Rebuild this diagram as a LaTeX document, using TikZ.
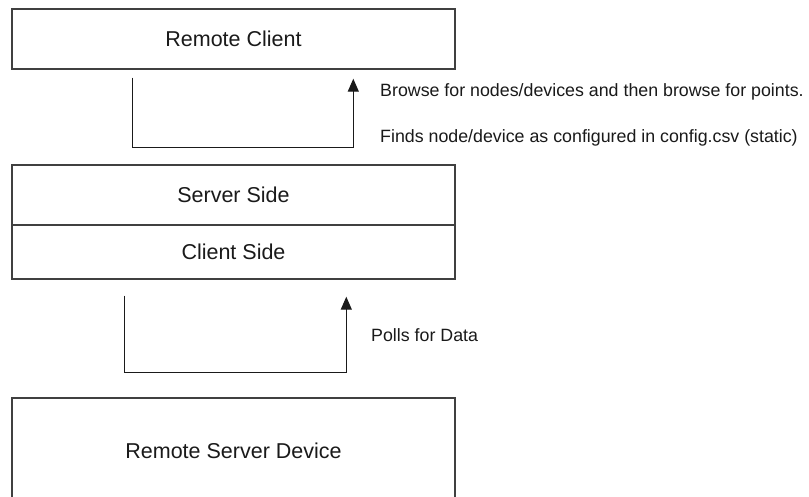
\documentclass[tikz,border=0pt]{standalone}
\usepackage{fontspec}
\setmainfont{Liberation Sans}
\usetikzlibrary{arrows.meta,calc}
\definecolor{boxline}{HTML}{404040}
\definecolor{txt}{HTML}{1A1A1A}
\tikzset{
  boxnode/.style={draw=boxline, line width=1.4pt, minimum width=443pt, inner sep=0pt,
                  font=\fontsize{21.5}{24}\selectfont, text=txt},
  conn/.style={draw=txt, line width=1.2pt},
  arr/.style={conn, -{Triangle[width=11pt,length=13pt]}},
  note/.style={anchor=west, inner sep=0pt, font=\fontsize{17.8}{20}\selectfont, text=txt}
}
\begin{document}
\begin{tikzpicture}[x=1pt,y=-1pt]
\useasboundingbox (0,0) rectangle (809,497);
\clip (0,0) rectangle (809,497);
\fill[white] (0,0) rectangle (809,497);
% boxes
\node[boxnode, minimum height=60pt] (rc) at (233.5,39) {Remote Client};
\node[boxnode, minimum height=60pt] (ss) at (233.5,195) {Server Side};
\node[boxnode, minimum height=54pt] (cs) at (233.5,252) {Client Side};
\node[boxnode, minimum height=106pt] (rsd) at (233.5,451) {Remote Server Device};
% top connector
\coordinate (t1) at ($(rc.south west)+(121,8)$);
\coordinate (t2) at ($(ss.north west)+(342,-17)$);
\draw[arr] (t1) -- (t1 |- t2) -- (t2) -- ($(rc.south west)+(342,9)$);
% lower connector
\coordinate (b1) at ($(cs.south west)+(113,16)$);
\coordinate (b2) at ($(rsd.north west)+(335,-25)$);
\draw[arr] (b1) -- (b1 |- b2) -- (b2) -- ($(cs.south west)+(335,17)$);
% notes
\node[note] (browse) at (380,92) {Browse for nodes/devices and then browse for points.};
\node[note] (finds) at (380,138) {Finds node/device as configured in config.csv (static)};
\node[note] (polls) at (371,335) {Polls for Data};
\end{tikzpicture}
\end{document}
